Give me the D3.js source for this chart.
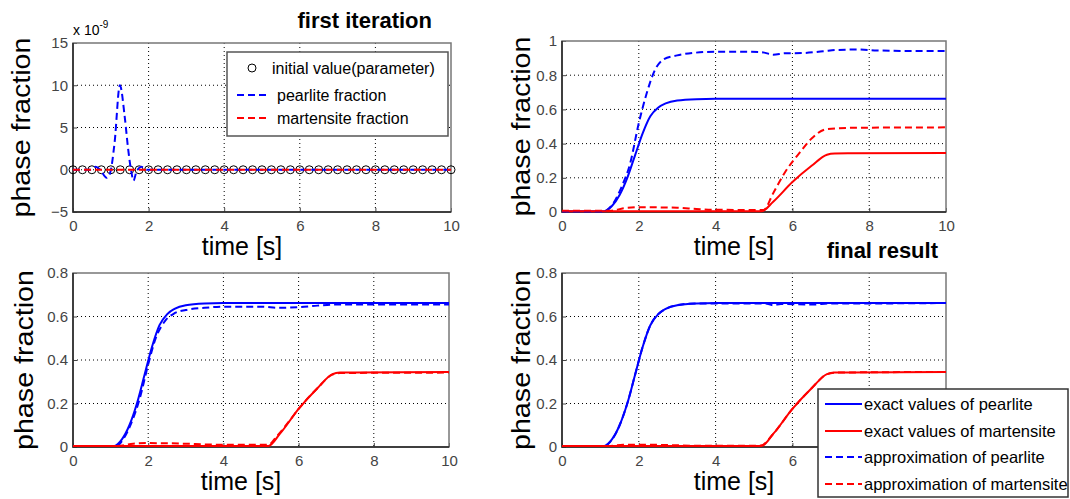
<!DOCTYPE html>
<html>
<head>
<meta charset="utf-8">
<script src="https://cdn.jsdelivr.net/npm/d3@7/dist/d3.min.js"></script>
<style>
  body { margin: 0; background: #fff; }
  svg { display: block; }
  .tick text { font-family: "Liberation Sans Narrow", "Arial Narrow", "Liberation Sans", Arial, sans-serif; font-size: 15px; fill: #444; }
  .lab { font-family: "Liberation Sans", Arial, Helvetica, sans-serif; fill: #000; }
</style>
</head>
<body>
<div id="chart"></div>
<script>
// ---- first iteration (values in units of 1e-9)
const initTimes = [0, 0.25, 0.5, 0.75, 1, 1.25, 1.5, 1.75, 2, 2.25, 2.5, 2.75, 3, 3.25, 3.5, 3.75, 4, 4.25, 4.5, 4.75, 5,
  5.25, 5.5, 5.75, 6, 6.25, 6.5, 6.75, 7, 7.25, 7.5, 7.75, 8, 8.25, 8.5, 8.75, 9, 9.25, 9.5, 9.75, 10];
const initValues = [0, 0, 0, 0, 0, 0, 0, 0, 0, 0, 0, 0, 0, 0, 0, 0, 0, 0, 0, 0, 0,
  0, 0, 0, 0, 0, 0, 0, 0, 0, 0, 0, 0, 0, 0, 0, 0, 0, 0, 0, 0];
const firstPearliteT = [0, 0.45, 0.6, 0.72, 0.89, 0.98, 1.1, 1.24, 1.37, 1.46, 1.55, 1.6, 1.68, 1.81, 1.95, 10];
const firstPearliteV = [0, 0, 0.35, 0, -0.95, -0.4, 3.2, 10, 6.2, 2.4, -0.4, -1.3, -0.2, 0.35, 0, 0];
const firstMartensiteT = [0, 10];
const firstMartensiteV = [0, 0];

// ---- exact values (same in every later panel)
const exactPearliteT = [0, 1.1, 1.3, 1.5, 1.7, 1.9, 2.1, 2.3, 2.5, 2.7, 3.0, 3.5, 4, 10];
const exactPearliteV = [0.005, 0.005, 0.035, 0.1, 0.2, 0.33, 0.46, 0.56, 0.61, 0.635, 0.652, 0.66, 0.662, 0.662];
const exactMartensiteT = [0, 5.2, 5.5, 6.0, 6.5, 6.9, 7.1, 7.5, 10];
const exactMartensiteV = [0.005, 0.005, 0.06, 0.175, 0.27, 0.335, 0.342, 0.343, 0.345];

// ---- second panel approximations
const approxBPearliteT = [0, 1.1, 1.3, 1.55, 1.77, 2.0, 2.2, 2.42, 2.63, 3.0, 3.4, 4, 4.8, 5.2, 5.5, 5.8, 6.3, 6.8, 7.2, 7.7, 8.2, 9, 10];
const approxBPearliteV = [0.005, 0.005, 0.04, 0.146, 0.28, 0.52, 0.69, 0.83, 0.89, 0.916, 0.93, 0.937, 0.937, 0.935, 0.92, 0.928, 0.93, 0.94, 0.948, 0.95, 0.945, 0.942, 0.942];
const approxBMartensiteT = [0, 1.3, 1.6, 2.0, 3.0, 3.5, 4.0, 5.25, 5.5, 5.8, 6.2, 6.5, 6.9, 7.5, 10];
const approxBMartensiteV = [0.008, 0.008, 0.022, 0.028, 0.025, 0.018, 0.013, 0.012, 0.11, 0.23, 0.35, 0.43, 0.485, 0.492, 0.495];

// ---- third panel approximations
const approxCPearliteT = [0, 1.15, 1.35, 1.55, 1.77, 2.0, 2.2, 2.45, 2.7, 3.0, 3.5, 4.0, 5.0, 5.5, 6.0, 6.5, 7.0, 8.0, 10];
const approxCPearliteV = [0.005, 0.005, 0.04, 0.11, 0.22, 0.38, 0.5, 0.58, 0.615, 0.63, 0.64, 0.645, 0.645, 0.64, 0.643, 0.65, 0.655, 0.655, 0.655];
const approxCMartensiteT = [0, 1.2, 1.6, 2.0, 3.0, 3.5, 4.0, 5.2, 5.4, 5.8, 6.0, 6.5, 6.9, 7.1, 10];
const approxCMartensiteV = [0.005, 0.005, 0.015, 0.018, 0.015, 0.012, 0.01, 0.01, 0.045, 0.13, 0.175, 0.27, 0.333, 0.34, 0.342];

// ---- final result approximations
const approxDPearliteT = [0, 1.1, 1.3, 1.5, 1.7, 1.9, 2.1, 2.3, 2.5, 2.7, 3.0, 3.5, 4.0, 5.3, 5.5, 5.7, 6.5, 7.0, 8.0, 10];
const approxDPearliteV = [0.005, 0.005, 0.033, 0.1, 0.2, 0.33, 0.46, 0.56, 0.61, 0.635, 0.652, 0.66, 0.66, 0.66, 0.652, 0.658, 0.655, 0.66, 0.66, 0.662];
const approxDMartensiteT = [0, 1.2, 1.6, 2.4, 3.5, 5.1, 5.2, 5.5, 6.0, 6.5, 6.9, 7.1, 10];
const approxDMartensiteV = [0.005, 0.005, 0.01, 0.01, 0.006, 0.006, 0.008, 0.06, 0.175, 0.27, 0.335, 0.342, 0.345];

const xTicks = [0, 2, 4, 6, 8, 10];
const yTicksFirst = [-5, 0, 5, 10, 15];
const yTicksTop = [0, 0.2, 0.4, 0.6, 0.8, 1];
const yTicksBottom = [0, 0.2, 0.4, 0.6, 0.8];

const legendFirst = ["initial value(parameter)", "pearlite fraction", "martensite fraction"];
const legendFinal = ["exact values of pearlite", "exact values of martensite", "approximation of pearlite", "approximation of martensite"];

const zip = (t, v) => t.map((d, i) => [d, v[i]]);

const width = 1070, height = 499;
const svg = d3.select("#chart").append("svg").attr("width", width).attr("height", height);

function drawPanel(p) {
  const x = d3.scaleLinear().domain([0, 10]).range([p.left, p.right]);
  const y = d3.scaleLinear().domain(p.yDomain).range([p.bottom, p.top]);
  const g = svg.append("g");

  // dotted grid
  g.selectAll(".gx").data(xTicks.filter(d => d > 0 && d < 10)).enter().append("line")
    .attr("x1", d => x(d)).attr("x2", d => x(d)).attr("y1", p.top).attr("y2", p.bottom)
    .attr("stroke", "#000").attr("stroke-width", 1).attr("stroke-dasharray", "1,3");
  g.selectAll(".gy").data(p.yTicks.filter(d => d > p.yDomain[0] && d < p.yDomain[1])).enter().append("line")
    .attr("x1", p.left).attr("x2", p.right).attr("y1", d => y(d)).attr("y2", d => y(d))
    .attr("stroke", "#000").attr("stroke-width", 1).attr("stroke-dasharray", "1,3");

  // axes, inward ticks like matlab
  const ax = g.append("g").attr("transform", `translate(0,${p.bottom})`)
    .call(d3.axisBottom(x).tickValues(xTicks).tickSize(-4).tickPadding(6).tickFormat(d3.format("d")));
  const ay = g.append("g").attr("transform", `translate(${p.left},0)`)
    .call(d3.axisLeft(y).tickValues(p.yTicks).tickSize(-4).tickPadding(5).tickFormat(p.fmt));
  ax.select(".domain").remove();
  ay.select(".domain").remove();
  g.selectAll(".tick line").attr("stroke", "#444");
  ax.selectAll("text").attr("dy", "0.85em");
  // labels hidden under a legend in the picture
  if (p.hideX) ax.selectAll(".tick").filter(d => p.hideX.includes(d)).select("text").remove();

  // box
  g.append("rect").attr("x", p.left).attr("y", p.top)
    .attr("width", p.right - p.left).attr("height", p.bottom - p.top)
    .attr("fill", "none").attr("stroke", "#777").attr("stroke-width", 1.5);
  g.append("path").attr("d", `M${p.left},${p.top}V${p.bottom}H${p.right}`)
    .attr("fill", "none").attr("stroke", "#222").attr("stroke-width", 1.5);

  // labels
  g.append("text").attr("class", "lab")
    .attr("transform", `translate(${p.ylabX},${(p.top + p.bottom) / 2}) rotate(-90)`)
    .attr("text-anchor", "middle").attr("font-size", 26)
    .attr("textLength", 180).attr("lengthAdjust", "spacingAndGlyphs")
    .text("phase fraction");
  g.append("text").attr("class", "lab")
    .attr("x", (p.left + p.right) / 2 - 20).attr("y", p.bottom + p.xlabDy)
    .attr("text-anchor", "middle").attr("font-size", 25)
    .text("time [s]");

  const line = d3.line().x(d => x(d[0])).y(d => y(d[1])).curve(d3.curveMonotoneX);
  p.series.forEach(s => {
    g.append("path").datum(zip(s.t, s.v)).attr("d", line)
      .attr("fill", "none").attr("stroke", s.color).attr("stroke-width", 2)
      .attr("stroke-dasharray", s.dash ? "7,4" : null);
  });
  return { x, y, g };
}

// ---------- panel 1: first iteration
const p1 = drawPanel({
  left: 73, right: 451, top: 43, bottom: 212, yDomain: [-5, 15], yTicks: yTicksFirst,
  fmt: d3.format("d"), ylabX: 30, xlabDy: 43,
  series: []
});
p1.g.append("g").selectAll("circle").data(zip(initTimes, initValues)).enter().append("circle")
  .attr("cx", d => p1.x(d[0])).attr("cy", d => p1.y(d[1])).attr("r", 4)
  .attr("fill", "none").attr("stroke", "#000").attr("stroke-width", 1);
const line1 = d3.line().x(d => p1.x(d[0])).y(d => p1.y(d[1])).curve(d3.curveMonotoneX);
p1.g.append("path").datum(zip(firstPearliteT, firstPearliteV)).attr("d", line1)
  .attr("fill", "none").attr("stroke", "#0000ff").attr("stroke-width", 2).attr("stroke-dasharray", "7,4");
p1.g.append("path").datum(zip(firstMartensiteT, firstMartensiteV)).attr("d", line1)
  .attr("fill", "none").attr("stroke", "#ff0000").attr("stroke-width", 2).attr("stroke-dasharray", "7,4");

// x10^-9 exponent
const expo = svg.append("text").attr("class", "lab").attr("x", 73).attr("y", 35)
  .attr("font-size", 14).attr("fill", "#444");
expo.append("tspan").text("x 10");
expo.append("tspan").attr("font-size", 10).attr("dy", -7).text("-9");

svg.append("text").attr("class", "lab").attr("x", 432).attr("y", 28)
  .attr("text-anchor", "end").attr("font-size", 22).attr("font-weight", "bold")
  .text("first iteration");

// legend of panel 1
const leg1 = svg.append("g");
leg1.append("rect").attr("x", 227).attr("y", 52).attr("width", 221).attr("height", 84)
  .attr("fill", "#fff").attr("stroke", "#555").attr("stroke-width", 1.5);
leg1.append("circle").attr("cx", 252).attr("cy", 68).attr("r", 4)
  .attr("fill", "none").attr("stroke", "#000");
leg1.append("line").attr("x1", 237).attr("x2", 268).attr("y1", 95).attr("y2", 95)
  .attr("stroke", "#0000ff").attr("stroke-width", 2).attr("stroke-dasharray", "7,4");
leg1.append("line").attr("x1", 237).attr("x2", 268).attr("y1", 118).attr("y2", 118)
  .attr("stroke", "#ff0000").attr("stroke-width", 2).attr("stroke-dasharray", "7,4");
leg1.selectAll("text").data(legendFirst).enter().append("text").attr("class", "lab")
  .attr("x", (d, i) => i === 0 ? 272 : 277).attr("y", (d, i) => [74, 101, 124][i])
  .attr("font-size", 16).text(d => d);

// ---------- panels 2-4
const fmtDec = d => d === 0 ? "0" : d === 1 ? "1" : d3.format(".1f")(d);
function fullSeries(pT, pV, mT, mV) {
  return [
    { t: exactPearliteT, v: exactPearliteV, color: "#0000ff", dash: false },
    { t: exactMartensiteT, v: exactMartensiteV, color: "#ff0000", dash: false },
    { t: pT, v: pV, color: "#0000ff", dash: true },
    { t: mT, v: mV, color: "#ff0000", dash: true }
  ];
}

drawPanel({
  left: 562, right: 946, top: 41, bottom: 212, yDomain: [0, 1], yTicks: yTicksTop,
  fmt: fmtDec, ylabX: 530, xlabDy: 43,
  series: fullSeries(approxBPearliteT, approxBPearliteV, approxBMartensiteT, approxBMartensiteV)
});

drawPanel({
  left: 73, right: 449, top: 273, bottom: 447, yDomain: [0, 0.8], yTicks: yTicksBottom,
  fmt: fmtDec, ylabX: 33, xlabDy: 43,
  series: fullSeries(approxCPearliteT, approxCPearliteV, approxCMartensiteT, approxCMartensiteV)
});

drawPanel({
  left: 562, right: 946, top: 273, bottom: 447, yDomain: [0, 0.8], yTicks: yTicksBottom,
  fmt: fmtDec, ylabX: 530, xlabDy: 43, hideX: [8, 10],
  series: fullSeries(approxDPearliteT, approxDPearliteV, approxDMartensiteT, approxDMartensiteV)
});

svg.append("text").attr("class", "lab").attr("x", 938).attr("y", 258)
  .attr("text-anchor", "end").attr("font-size", 22).attr("font-weight", "bold")
  .text("final result");

// legend of final result
const leg2 = svg.append("g");
leg2.append("rect").attr("x", 818).attr("y", 389).attr("width", 250).attr("height", 108)
  .attr("fill", "#fff").attr("stroke", "#333").attr("stroke-width", 1.5);
const legStyle = [
  { color: "#0000ff", dash: null }, { color: "#ff0000", dash: null },
  { color: "#0000ff", dash: "7,4" }, { color: "#ff0000", dash: "7,4" }
];
const legY = [404, 431, 457, 484];
leg2.selectAll("line").data(legStyle).enter().append("line")
  .attr("x1", 825).attr("x2", 862).attr("y1", (d, i) => legY[i]).attr("y2", (d, i) => legY[i])
  .attr("stroke", d => d.color).attr("stroke-width", 2).attr("stroke-dasharray", d => d.dash);
leg2.selectAll("text").data(legendFinal).enter().append("text").attr("class", "lab")
  .attr("x", 864).attr("y", (d, i) => legY[i] + 6).attr("font-size", 16.5).text(d => d);
</script>
</body>
</html>
